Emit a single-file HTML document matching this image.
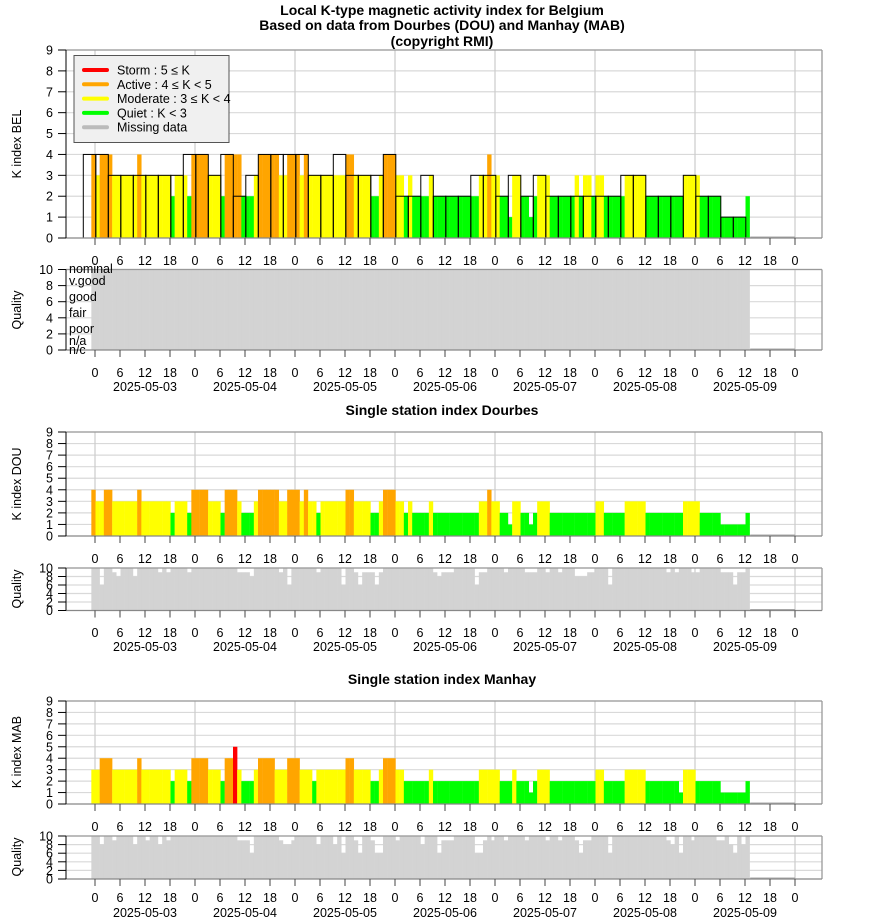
<!DOCTYPE html>
<html><head><meta charset="utf-8"><style>
html,body{margin:0;padding:0;background:#fff;}
svg{display:block;font-family:"Liberation Sans",Arial,sans-serif;}
</style></head><body>
<svg id="chart" width="880" height="924" viewBox="0 0 880 924" xmlns="http://www.w3.org/2000/svg">
<text x="442" y="15" text-anchor="middle" font-size="14" font-weight="bold">Local K-type magnetic activity index for Belgium</text>
<text x="442" y="30" text-anchor="middle" font-size="14" font-weight="bold">Based on data from Dourbes (DOU) and Manhay (MAB)</text>
<text x="442" y="46" text-anchor="middle" font-size="14" font-weight="bold">(copyright RMI)</text>
<text x="442" y="415" text-anchor="middle" font-size="14" font-weight="bold">Single station index Dourbes</text>
<text x="442" y="684" text-anchor="middle" font-size="14" font-weight="bold">Single station index Manhay</text>
<g id="layer"></g>
</svg>
<script>
// hourly values starting at 2025-05-02 23:00 (hour -1)
const startHour = -1;
const belK3Start = -3;
const belK3 = [4,4,3,3,3,3,3,3, 4,4,3,4,2,3,4,4, 4,4,3,3,4,3,3,3, 4,2,2,3,2,2,2,3, 3,2,3,2,3,2,2,2, 2,2,2,3,3,2,2,2, 3,2,2,1,1];
const belFill = [4,
 3,4,4,4,3,3,3,3,3,3,4,3,3,3,3,3,3,3,2,3,3,3,2,4,
 4,4,4,3,3,3,2,4,4,4,4,2,2,2,3,4,4,4,4,4,3,3,4,4,
 4,3,4,3,3,3,3,3,3,3,3,3,4,4,3,3,3,3,2,2,3,4,4,4,
 3,3,2,3,2,2,2,2,3,2,2,2,2,2,2,2,2,2,2,2,3,3,4,3,
 3,2,2,1,3,3,2,2,1,2,3,3,3,2,2,2,2,2,2,3,2,3,3,2,
 3,3,2,2,2,2,2,3,3,3,3,3,2,2,2,2,2,2,2,2,2,3,3,3,
 3,2,2,2,2,2,1,1,1,1,1,1,2];
const douK = [4,
 3,3,4,4,3,3,3,3,3,3,4,3,3,3,3,3,3,3,2,3,3,3,2,4,
 4,4,4,3,3,3,2,4,4,4,3,2,2,2,3,4,4,4,4,4,3,3,4,4,
 4,3,4,3,3,2,3,3,3,3,3,3,4,4,3,3,3,3,2,2,3,4,4,4,
 3,3,2,3,2,2,2,2,3,2,2,2,2,2,2,2,2,2,2,2,3,3,4,3,
 3,2,2,1,3,3,2,2,1,2,3,3,3,2,2,2,2,2,2,2,2,2,2,2,
 3,3,2,2,2,2,2,3,3,3,3,3,2,2,2,2,2,2,2,2,2,3,3,3,
 3,2,2,2,2,2,1,1,1,1,1,1,2];
const mabK = [3,
 3,4,4,4,3,3,3,3,3,3,4,3,3,3,3,3,3,3,2,3,3,3,2,4,
 4,4,4,3,3,3,2,4,4,5,3,2,2,2,3,4,4,4,4,3,3,3,4,4,
 4,3,3,3,2,3,3,3,3,3,3,3,4,4,3,3,3,3,2,2,3,4,4,4,
 3,3,2,2,2,2,2,2,3,2,2,2,2,2,2,2,2,2,2,2,3,3,3,3,
 3,2,2,2,3,2,2,2,1,2,3,3,3,2,2,2,2,2,2,2,2,2,2,2,
 3,3,2,2,2,2,2,3,3,3,3,3,2,2,2,2,2,2,2,2,1,3,3,3,
 2,2,2,2,2,2,1,1,1,1,1,1,2];
const qBel = [10,
 10,10,10,10,10,10,10,10,10,10,10,10,10,10,10,10,10,10,10,10,10,10,10,10,
 10,10,10,10,10,10,10,10,10,10,10,10,10,10,10,10,10,10,10,10,10,10,10,10,
 10,10,10,10,10,10,10,10,10,10,10,10,10,10,10,10,10,10,10,10,10,10,10,10,
 10,10,10,10,10,10,10,10,10,10,10,10,10,10,10,10,10,10,10,10,10,10,10,10,
 10,10,10,10,10,10,10,10,10,10,10,10,10,10,10,10,10,10,10,10,10,10,10,10,
 10,10,10,10,10,10,10,10,10,10,10,10,10,10,10,10,10,10,10,10,10,10,10,10,
 10,10,10,10,10,10,10,10,10,10,10,10,10];
const qDou = [10,
 10,6,10,10,9,8,10,10,10,8,10,10,10,10,10,9,10,9,10,10,10,10,9,10,
 10,10,10,10,10,10,10,10,10,10,9,9,9,8,10,10,10,10,10,10,9,10,6,10,
 10,10,10,10,10,9,10,10,10,10,10,6,10,10,9,6,9,9,9,6,9,10,10,10,
 10,10,10,10,10,10,10,10,10,9,8,9,9,9,10,10,10,10,10,6,9,9,10,10,
 10,10,9,10,10,10,10,9,9,9,10,10,9,10,10,9,10,10,10,8,8,8,9,9,
 10,10,10,6,10,10,10,10,10,10,10,10,10,10,10,10,10,9,10,9,10,10,10,9,
 9,10,10,10,10,10,9,9,9,6,9,9,10];
const qMab = [10,
 10,8,10,10,9,10,10,10,10,8,10,10,9,10,10,8,10,9,10,10,10,10,10,10,
 10,10,10,10,10,10,10,10,10,10,9,9,9,6,10,10,10,10,10,10,9,8,8,9,
 10,10,10,10,10,8,10,10,10,8,10,6,10,10,9,6,10,10,9,6,6,10,10,10,
 9,10,10,10,10,10,8,10,10,10,6,9,9,9,10,10,10,10,10,6,6,9,10,9,
 10,10,9,10,10,10,10,9,10,10,10,10,9,10,10,9,10,10,10,9,6,9,9,10,
 10,10,10,6,10,10,10,10,10,10,10,10,10,10,10,10,10,9,8,10,6,10,10,9,
 10,10,10,10,10,9,9,10,8,6,10,8,10];
const hourTicks = [0,6,12,18,24,30,36,42,48,54,60,66,72,78,84,90,96,102,108,114,120,126,132,138,144,150,156,162,168];
const hourTickLabels = ["0","6","12","18","0","6","12","18","0","6","12","18","0","6","12","18","0","6","12","18","0","6","12","18","0","6","12","18","0"];
const dateLabels = ["2025-05-03","2025-05-04","2025-05-05","2025-05-06","2025-05-07","2025-05-08","2025-05-09"];
const kTicks = [0,1,2,3,4,5,6,7,8,9];
const qTicks = [0,2,4,6,8,10];

const NS = "http://www.w3.org/2000/svg";
const layer = document.getElementById('layer');
const X0 = 66, X1 = 822;
function xH(h){ return 95 + h * 100 / 24; }
function mk(tag, attrs, parent){ const e = document.createElementNS(NS, tag); for (const k in attrs) e.setAttribute(k, attrs[k]); (parent||layer).appendChild(e); return e; }
function kColor(v){ return v >= 5 ? '#ff0000' : v >= 4 ? '#ffa500' : v >= 3 ? '#ffff00' : '#00ff00'; }
function txt(s, x, y, anchor, parent, size){ const t = mk('text', {x:x, y:y, 'text-anchor':anchor||'middle', 'font-size':size||12}, parent); t.textContent = s; return t; }

function frame(g, top, bottom, vmax, ticks, gridStep){
  const yv = v => bottom - (bottom - top) * v / vmax;
  for (let v = gridStep; v <= vmax; v += gridStep) mk('line', {x1:X0, x2:X1, y1:yv(v), y2:yv(v), stroke:'#d9d9d9', 'stroke-width':1.2}, g);
  for (let d = 0; d <= 7; d++) mk('line', {x1:xH(d*24), x2:xH(d*24), y1:top, y2:bottom, stroke:'#cccccc', 'stroke-width':1.2}, g);
  return yv;
}
function axes(g, top, bottom, vmax, ticks, yv){
  mk('line', {x1:X0, x2:X1, y1:top, y2:top, stroke:'#999', 'stroke-width':1.3}, g);
  mk('line', {x1:X1, x2:X1, y1:top, y2:bottom, stroke:'#999', 'stroke-width':1.3}, g);
  mk('line', {x1:X0, x2:X1, y1:bottom, y2:bottom, stroke:'#888', 'stroke-width':1.3}, g);
  mk('line', {x1:X0, x2:X0, y1:top, y2:bottom, stroke:'#000', 'stroke-width':1}, g);
  ticks.forEach(v => {
    mk('line', {x1:58, x2:X0, y1:yv(v), y2:yv(v), stroke:'#000', 'stroke-width':1}, g);
    txt(String(v), 53, yv(v) + 4.5, 'end', g, 12.5);
  });
  hourTicks.forEach(h => mk('line', {x1:xH(h), x2:xH(h), y1:bottom, y2:bottom + 7, stroke:'#444', 'stroke-width':1}, g));
}
function hourLabels(g, y){ hourTicks.forEach((h, i) => txt(hourTickLabels[i], xH(h), y, 'middle', g, 12.5)); }
function dateRow(g, y){ dateLabels.forEach((d, i) => txt(d, xH(12 + 24*i), y, 'middle', g, 12.5)); }

function kPanel(name, vals, top, bottom, outline){
  const g = mk('g', {});
  
  
  const yv = frame(g, top, bottom, 9, kTicks, 1);
  vals.forEach((v, i) => {
    const h = startHour + i;
    const r = mk('rect', {x:xH(h) + 0.5, y:yv(v), width:xH(h+1) - xH(h) + 0.2, height:bottom - yv(v), fill:kColor(v)}, g);
    
    
  });
  if (outline) outline.forEach((v, i) => {
    const h = belK3Start + 3*i;
    const r = mk('rect', {x:xH(h) + 0.8, y:yv(v), width:xH(h+3) - xH(h), height:bottom - yv(v), fill:'none', stroke:'#000', 'stroke-width':1}, g);
    
    
  });
  const hEnd = startHour + vals.length;
  mk('line', {x1:xH(hEnd) + 1, x2:xH(168), y1:bottom - 0.5, y2:bottom - 0.5, stroke:'#aaa', 'stroke-width':2}, g);
  axes(g, top, bottom, 9, kTicks, yv);
  return g;
}
function qPanel(name, vals, top, bottom){
  const g = mk('g', {});
  
  
  const yv = frame(g, top, bottom, 10, qTicks, 2);
  vals.forEach((v, i) => {
    const h = startHour + i;
    const r = mk('rect', {x:xH(h) + 0.5, y:yv(v), width:xH(h+1) - xH(h) + 0.2, height:bottom - yv(v), fill:'#d3d3d3'}, g);
    
    
  });
  const hEnd = startHour + vals.length;
  mk('line', {x1:xH(hEnd) + 1, x2:xH(168), y1:bottom - 0.5, y2:bottom - 0.5, stroke:'#aaa', 'stroke-width':2}, g);
  axes(g, top, bottom, 10, qTicks, yv);
  return g;
}
function yTitle(s, y, name){
  const t = txt(s, 0, 0, 'middle', layer, 12.5);
  t.setAttribute('transform', 'translate(21,' + y + ') rotate(-90)');
  
  
}

// BEL
kPanel('bel', belFill, 50, 238, belK3);
const gl = mk('g', {});


hourLabels(gl, 265);
const qb = qPanel('bel', qBel, 269.5, 350);
[['nominal',273],['v.good',285],['good',301],['fair',317],['poor',333],['n/a',345],['n/c',354]].forEach(p => {
  const t = txt(p[0], 69, p[1], 'start', qb, 12.5);
  
  
});
const gl2 = mk('g', {});


hourLabels(gl2, 377); dateRow(gl2, 391);
yTitle('K index BEL', 144, 'bel-y-title');
yTitle('Quality', 310, 'bel-quality-y-title');

// DOU
kPanel('dou', douK, 432, 536, null);
const gd = mk('g', {});


hourLabels(gd, 563);
qPanel('dou', qDou, 568, 610.5);
const gd2 = mk('g', {});


hourLabels(gd2, 637); dateRow(gd2, 651);
yTitle('K index DOU', 484, 'dou-y-title');
yTitle('Quality', 589, 'dou-quality-y-title');

// MAB
kPanel('mab', mabK, 701, 804, null);
const gm = mk('g', {});


hourLabels(gm, 831);
qPanel('mab', qMab, 836, 879);
const gm2 = mk('g', {});


hourLabels(gm2, 902); dateRow(gm2, 917);
yTitle('K index MAB', 752, 'mab-y-title');
yTitle('Quality', 857, 'mab-quality-y-title');

// legend
const lg = mk('g', {});


mk('rect', {x:74, y:55.5, width:155, height:87, fill:'#f0f0f0', stroke:'#555', 'stroke-width':1}, lg);
const legendLabels = ['Storm : 5 \u2264 K','Active : 4 \u2264 K < 5','Moderate : 3 \u2264 K < 4','Quiet : K < 3','Missing data'];
const legendColors = ['#ff0000','#ffa500','#ffff00','#00ff00','#bbbbbb'];
legendLabels.forEach((s, i) => {
  const y = 70 + i * 14.3;
  const e = mk('g', {}, lg);
  
  
  mk('line', {x1:84, x2:107, y1:y, y2:y, stroke:legendColors[i], 'stroke-width':4, 'stroke-linecap':'round'}, e);
  txt(s, 117, y + 4.5, 'start', e, 12.5);
});
</script>
</body></html>
